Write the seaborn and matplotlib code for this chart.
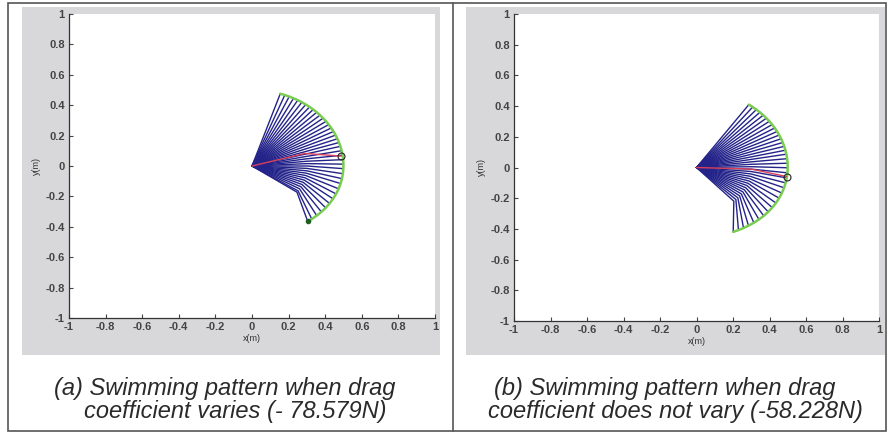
import numpy as np
import pandas as pd
import matplotlib
matplotlib.use("Agg")
import matplotlib.pyplot as plt
from matplotlib.patches import Rectangle
import seaborn as sns

# link lengths of the two-segment tail (m)
link_lengths = [0.3, 0.2]

# (a) drag coefficient varies: angle of segment 1 and segment 2 for each snapshot (deg)
seg1_a = [72, 69, 66, 63, 60, 57, 54, 51, 48, 45, 42, 39, 36, 33, 30, 27, 24, 21, 18,
          15, 12, 9, 6, 3, 0, -3, -6, -9, -12, -15, -18, -21, -24, -27, -30, -33, -35]
seg2_a = [72, 69, 66, 63, 60, 57, 54, 51, 48, 45, 42, 39, 36, 33, 30, 27, 24, 21, 18,
          15, 11, 7, 3, -1, -5, -10, -15, -20, -26, -32, -38, -44, -50, -56, -62, -68, -73]
red_a = [16, -5]

# (b) drag coefficient does not vary
seg1_b = [55, 52, 49, 46, 43, 40, 37, 34, 31, 28, 25, 22, 19, 16, 13, 10, 7, 4, 1,
          -2, -5, -8, -11, -14, -17, -20, -23, -26, -29, -32, -35, -38, -41, -44, -47]
seg2_b = [55, 52, 49, 46, 43, 40, 37, 34, 31, 28, 25, 22, 19, 16, 13, 10, 6, 2, -2,
          -7, -12, -17, -22, -28, -34, -40, -46, -52, -58, -64, -70, -76, -81, -86, -91]
red_b = [-2, -14]

ticks = [-1, -0.8, -0.6, -0.4, -0.2, 0, 0.2, 0.4, 0.6, 0.8, 1]
tick_labels = ["-1", "-0.8", "-0.6", "-0.4", "-0.2", "0", "0.2", "0.4", "0.6", "0.8", "1"]

caption_a = ["(a) Swimming pattern when drag", "coefficient varies (- 78.579N)"]
caption_b = ["(b) Swimming pattern when drag", "coefficient does not vary (-58.228N)"]


def tail_points(a1, a2):
    t1, t2 = np.deg2rad(a1), np.deg2rad(a2)
    jx, jy = link_lengths[0] * np.cos(t1), link_lengths[0] * np.sin(t1)
    tx, ty = jx + link_lengths[1] * np.cos(t2), jy + link_lengths[1] * np.sin(t2)
    return [0, jx, tx], [0, jy, ty]


def build_frame(seg1, seg2):
    rows = []
    for i, (a1, a2) in enumerate(zip(seg1, seg2)):
        xs, ys = tail_points(a1, a2)
        for k in range(3):
            rows.append({"line": i, "order": k, "x": xs[k], "y": ys[k]})
    return pd.DataFrame(rows)


W, H = 888, 434
sns.set_style("ticks")
plt.rcParams["font.family"] = ["Liberation Sans", "DejaVu Sans"]

fig = plt.figure(figsize=(W / 100, H / 100), dpi=100)
fig.patch.set_facecolor("white")


def px_rect(x0, y0, x1, y1):
    return [x0 / W, 1 - y1 / H, (x1 - x0) / W, (y1 - y0) / H]


# gray panels, outer border and divider
for gx0, gx1 in [(22, 440), (466, 885)]:
    r = px_rect(gx0, 7, gx1, 355)
    fig.add_artist(Rectangle((r[0], r[1]), r[2], r[3], transform=fig.transFigure,
                             facecolor="#d8d8da", edgecolor="none", zorder=0))
b = px_rect(8, 3, 886, 431)
fig.add_artist(Rectangle((b[0], b[1]), b[2], b[3], transform=fig.transFigure,
                         facecolor="none", edgecolor="#555555", lw=1.2, zorder=5))
fig.add_artist(plt.Line2D([453 / W, 453 / W], [1 - 3 / H, 1 - 431 / H],
                          transform=fig.transFigure, color="#555555", lw=1.2, zorder=5))


def draw_panel(rect, seg1, seg2, red, bottom_dot=False):
    ax = fig.add_axes(px_rect(*rect))
    ax.set_facecolor("white")
    df = build_frame(seg1, seg2)
    sns.lineplot(data=df, x="x", y="y", units="line", estimator=None, sort=False,
                 color="#23238a", lw=1.0, ax=ax, legend=False)
    tips = df[df["order"] == 2]
    sns.lineplot(x=tips["x"].values, y=tips["y"].values, sort=False, estimator=None,
                 color="#78cc50", lw=1.8, ax=ax)
    rx, ry = tail_points(red[0], red[1])
    ax.plot(rx, ry, color="#d8405a", lw=1.0)
    ax.plot(rx[-1], ry[-1], marker="o", ms=5, mfc="none", mec="#222222", mew=0.8)
    if bottom_dot:
        ax.plot(tips["x"].values[-1], tips["y"].values[-1], marker="o", ms=3,
                color="#1f5f1f")
    ax.set_xlim(-1, 1)
    ax.set_ylim(-1, 1)
    ax.set_xticks(ticks)
    ax.set_yticks(ticks)
    ax.set_xticklabels(tick_labels, fontweight="bold")
    ax.set_yticklabels(tick_labels, fontweight="bold")
    ax.tick_params(direction="in", length=3, width=0.8, labelsize=8,
                   colors="#444444", pad=3)
    sns.despine(ax=ax)
    for s in ["left", "bottom"]:
        ax.spines[s].set_color("#333333")
        ax.spines[s].set_linewidth(0.9)
    ax.set_xlabel("x(m)", fontsize=6.5, color="#333333", labelpad=1)
    ax.set_ylabel("y(m)", fontsize=6.5, color="#333333", labelpad=3)
    return ax


draw_panel((69, 14, 435, 318), seg1_a, seg2_a, red_a, bottom_dot=True)
draw_panel((514, 14, 879, 321), seg1_b, seg2_b, red_b)

cap_style = dict(fontsize=17, fontstyle="italic", color="#2a2a2a", va="baseline")
fig.text(225 / W, 1 - 395 / H, caption_a[0], ha="center", **cap_style)
fig.text(235 / W, 1 - 418 / H, caption_a[1], ha="center", **cap_style)
fig.text(494 / W, 1 - 395 / H, caption_b[0], ha="left", **cap_style)
fig.text(488 / W, 1 - 418 / H, caption_b[1], ha="left", **cap_style)

fig.savefig("out.png", dpi=100)
